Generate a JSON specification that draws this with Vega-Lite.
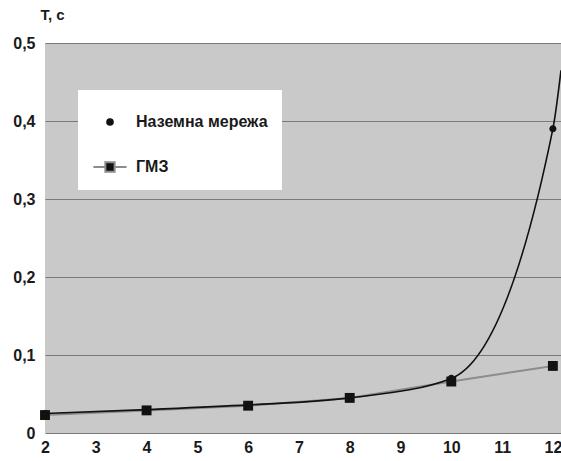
{
  "$schema": "https://vega.github.io/schema/vega-lite/v6.json",
  "autosize": {"type": "none"},
  "width": 516,
  "height": 390,
  "padding": {"left": 45, "top": 43, "right": 0, "bottom": 28},
  "background": "white",
  "config": {
    "view": {"fill": "#c9c9c9", "stroke": null},
    "font": "Liberation Sans Narrow, Arial Narrow, Liberation Sans, sans-serif"
  },
  "data": {
    "values": [
      {"n": 2, "T": 0.025, "series": "Наземна мережа", "marker": true},
      {"n": 4, "T": 0.030, "series": "Наземна мережа", "marker": true},
      {"n": 6, "T": 0.036, "series": "Наземна мережа", "marker": true},
      {"n": 8, "T": 0.045, "series": "Наземна мережа", "marker": true},
      {"n": 10, "T": 0.070, "series": "Наземна мережа", "marker": true},
      {"n": 12, "T": 0.390, "series": "Наземна мережа", "marker": true},
      {"n": 12.16, "T": 0.465, "series": "Наземна мережа", "marker": false},
      {"n": 2, "T": 0.023, "series": "ГМЗ", "marker": true},
      {"n": 4, "T": 0.029, "series": "ГМЗ", "marker": true},
      {"n": 6, "T": 0.035, "series": "ГМЗ", "marker": true},
      {"n": 8, "T": 0.045, "series": "ГМЗ", "marker": true},
      {"n": 10, "T": 0.066, "series": "ГМЗ", "marker": true},
      {"n": 12, "T": 0.086, "series": "ГМЗ", "marker": true}
    ]
  },
  "encoding": {
    "x": {
      "field": "n", "type": "quantitative",
      "scale": {"domain": [2, 12.16], "nice": false, "zero": false},
      "axis": {
        "values": [2, 3, 4, 5, 6, 7, 8, 9, 10, 11, 12],
        "title": null, "grid": false, "domain": false, "ticks": false,
        "labelFontSize": 16, "labelFontWeight": "bold", "labelColor": "#1a1a1a",
        "labelPadding": 6, "labelFlush": false, "labelOverlap": false
      }
    },
    "y": {
      "field": "T", "type": "quantitative",
      "scale": {"domain": [0, 0.5], "nice": false},
      "axis": {
        "values": [0, 0.1, 0.2, 0.3, 0.4, 0.5],
        "labelExpr": "replace(format(datum.value, '.1~f'), '.', ',')",
        "grid": true, "gridColor": "#7a7a7a", "gridWidth": 1.2, "gridOpacity": 1,
        "domain": false, "ticks": false,
        "labelFontSize": 16, "labelFontWeight": "bold", "labelColor": "#1a1a1a",
        "labelPadding": 10, "labelFlush": false,
        "title": "T, c", "titleAngle": 0, "titleAlign": "left", "titleBaseline": "alphabetic",
        "titleX": -5, "titleY": -24, "titleFontSize": 15, "titleFontWeight": "bold", "titleColor": "#1a1a1a"
      }
    }
  },
  "layer": [
    {
      "transform": [{"filter": "datum.series === 'ГМЗ'"}],
      "mark": {"type": "line", "color": "#8c8c8c", "strokeWidth": 2, "interpolate": "linear"},
      "encoding": {}
    },
    {
      "transform": [{"filter": "datum.series === 'Наземна мережа'"}],
      "mark": {"type": "line", "color": "#111111", "strokeWidth": 1.6, "interpolate": "monotone", "clip": true},
      "encoding": {}
    },
    {
      "transform": [{"filter": "datum.marker"}],
      "mark": {"type": "point", "filled": true, "color": "#111111", "opacity": 1, "size": 1250},
      "encoding": {
        "shape": {
          "field": "series", "type": "nominal",
          "scale": {
            "domain": ["Наземна мережа", "ГМЗ"],
            "range": [
              "M-0.2,0A0.2,0.2 0 1,0 0.2,0A0.2,0.2 0 1,0 -0.2,0Z",
              "M-0.28,-0.28H0.28V0.28H-0.28Z"
            ]
          },
          "legend": null
        }
      }
    },
    {
      "transform": [{"filter": "datum.marker"}],
      "mark": {"type": "point", "filled": true, "fill": "#111111", "opacity": 0, "size": 1100, "strokeWidth": 2},
      "encoding": {
        "stroke": {
          "field": "series", "type": "nominal",
          "scale": {"domain": ["Наземна мережа", "ГМЗ"], "range": ["#111111", "#8c8c8c"]}
        },
        "shape": {
          "field": "series", "type": "nominal",
          "scale": {
            "domain": ["Наземна мережа", "ГМЗ"],
            "range": [
              "M-0.17,0A0.17,0.17 0 1,0 0.17,0A0.17,0.17 0 1,0 -0.17,0Z",
              "M-1,0H-0.3M0.3,0H1M-0.28,-0.28H0.28V0.28H-0.28Z"
            ]
          },
          "legend": {
            "title": null,
            "orient": "none", "legendX": 33, "legendY": 47,
            "fillColor": "white",
            "padding": 14,
            "symbolSize": 1100,
            "symbolOpacity": 1,
            "symbolStrokeWidth": 2,
            "labelFontSize": 16, "labelFontWeight": "bold", "labelColor": "#1a1a1a",
            "labelOffset": 8, "rowPadding": 19
          }
        }
      }
    }
  ],
  "resolve": {"scale": {"shape": "independent", "stroke": "independent"}}
}
